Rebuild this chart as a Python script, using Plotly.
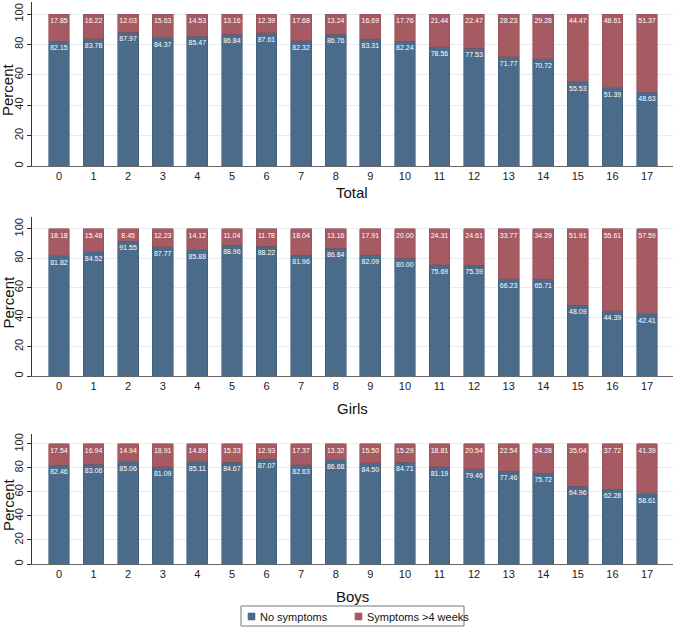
import plotly.graph_objects as go
from plotly.subplots import make_subplots

ages = list(range(18))

total_none = [82.15, 83.78, 87.97, 84.37, 85.47, 86.84, 87.61, 82.32, 86.76,
              83.31, 82.24, 78.56, 77.53, 71.77, 70.72, 55.53, 51.39, 48.63]
total_symp = [17.85, 16.22, 12.03, 15.63, 14.53, 13.16, 12.39, 17.68, 13.24,
              16.69, 17.76, 21.44, 22.47, 28.23, 29.28, 44.47, 48.61, 51.37]

girls_none = [81.82, 84.52, 91.55, 87.77, 85.88, 88.96, 88.22, 81.96, 86.84,
              82.09, 80.00, 75.69, 75.39, 66.23, 65.71, 48.09, 44.39, 42.41]
girls_symp = [18.18, 15.48, 8.45, 12.23, 14.12, 11.04, 11.78, 18.04, 13.16,
              17.91, 20.00, 24.31, 24.61, 33.77, 34.29, 51.91, 55.61, 57.59]

boys_none = [82.46, 83.06, 85.06, 81.09, 85.11, 84.67, 87.07, 82.63, 86.68,
             84.50, 84.71, 81.19, 79.46, 77.46, 75.72, 64.96, 62.28, 58.61]
boys_symp = [17.54, 16.94, 14.94, 18.91, 14.89, 15.33, 12.93, 17.37, 13.32,
             15.50, 15.29, 18.81, 20.54, 22.54, 24.28, 35.04, 37.72, 41.39]

panels = [("Total", total_none, total_symp),
          ("Girls", girls_none, girls_symp),
          ("Boys", boys_none, boys_symp)]

BLUE = "#4a6b8a"
RED = "#a65a62"
FONT = "Arial, Liberation Sans, sans-serif"
W, H = 676, 629

# pixel geometry per panel: (y of 0, y of axis top, range top)
geom = [(166, 2, 107.9), (376, 217, 108.1), (564, 434, 108.3)]

fig = make_subplots(rows=3, cols=1)

for i, (name, none, symp) in enumerate(panels):
    r = i + 1
    for vals, label, col, line in [(none, "No symptoms", BLUE, "#3e5d7a"),
                                   (symp, "Symptoms >4 weeks", RED, "#954c54")]:
        fig.add_trace(go.Bar(
            x=ages, y=vals, name=label, showlegend=False,
            marker=dict(color=col, line=dict(color=line, width=0.6)),
            width=0.6,
            text=[f"{v:.2f}" for v in vals],
            textposition="inside", insidetextanchor="end",
            textangle=0, constraintext="none",
            textfont=dict(size=7, color="white", family=FONT),
        ), row=r, col=1)

    y0, ytop, rtop = geom[i]
    fig.update_yaxes(
        domain=[1 - y0 / H, 1 - ytop / H], range=[0, rtop], automargin=False,
        tickvals=[0, 20, 40, 60, 80, 100], tickangle=-90,
        ticks="outside", ticklen=4, tickcolor="#333",
        showline=True, linecolor="#333", linewidth=1,
        showgrid=True, gridcolor="#e4eef1", gridwidth=1, zeroline=False,
        tickfont=dict(size=11, color="#222", family=FONT),
        row=r, col=1)
    fig.update_xaxes(
        domain=[32 / W, 673 / W], range=[-0.78, 17.75], automargin=False,
        tickvals=ages, ticks="",
        showline=True, linecolor="#666", linewidth=1, showgrid=False,
        tickfont=dict(size=11, color="#222", family=FONT),
        row=r, col=1)

title_y = [192, 408, 596]
for (name, _, _), ty, (y0, ytop, _) in zip(panels, title_y, geom):
    fig.add_annotation(text=name, x=352 / W, y=1 - ty / H, xref="paper", yref="paper",
                       xanchor="center", yanchor="middle", showarrow=False,
                       font=dict(size=15, color="#111", family=FONT))
    fig.add_annotation(text="Percent", textangle=-90, x=8 / W, y=1 - (y0 + ytop + 12) / 2 / H,
                       xref="paper", yref="paper", xanchor="center", yanchor="middle",
                       showarrow=False, font=dict(size=15, color="#111", family=FONT))

# legend box drawn by hand (small square swatches)
fig.add_shape(type="rect", xref="paper", yref="paper",
              x0=241 / W, x1=464 / W, y0=1 - 626 / H, y1=1 - 606 / H,
              line=dict(color="#777", width=1), fillcolor="white")
legend_items = [("No symptoms", BLUE, 248), ("Symptoms >4 weeks", RED, 355)]
for label, col, lx in legend_items:
    fig.add_shape(type="rect", xref="paper", yref="paper",
                  x0=lx / W, x1=(lx + 7) / W, y0=1 - 620 / H, y1=1 - 613 / H,
                  line=dict(color=col, width=0.6), fillcolor=col)
    fig.add_annotation(text=label, x=(lx + 10) / W, y=1 - 616.5 / H, xref="paper", yref="paper",
                       xanchor="left", yanchor="middle", showarrow=False,
                       font=dict(size=11, color="#111", family=FONT))

fig.update_layout(
    width=W, height=H, barmode="stack", showlegend=False,
    margin=dict(l=0, r=0, t=0, b=0),
    paper_bgcolor="white", plot_bgcolor="white",
    font=dict(family=FONT),
)

fig.write_html("out.html", config={"displayModeBar": False},
               post_script="document.body.style.margin='0';")
